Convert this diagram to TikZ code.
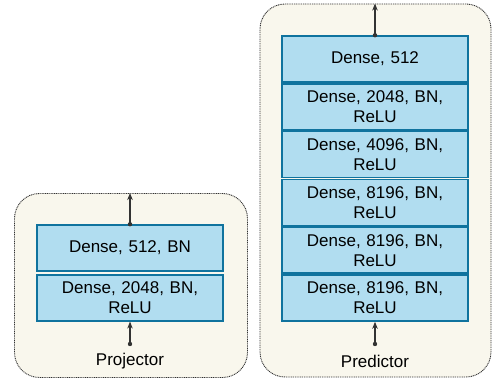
\documentclass[tikz,border=0pt]{standalone}
\usepackage{fontspec}
\setmainfont{Liberation Sans}
\usetikzlibrary{arrows.meta}

\definecolor{bluriempimento}{HTML}{B1DDF0}
\definecolor{blubordo}{HTML}{10739E}
\definecolor{crema}{HTML}{F9F7ED}
\definecolor{grigiofreccia}{HTML}{333333}

\begin{document}
\begin{tikzpicture}[
  x=1pt, y=-1pt,
  font=\fontsize{17}{20}\selectfont,
  pannello/.style={draw=black!80, fill=crema, line width=0.9pt, dash pattern=on 1pt off 0.8pt, rounded corners=25pt, inner sep=0pt},
  strato/.style={draw=blubordo, fill=bluriempimento, line width=1.6pt, minimum width=186pt, minimum height=46pt, text width=180pt, align=center, inner sep=0pt},
  freccia/.style={draw=grigiofreccia, line width=1.1pt, -{Stealth[length=7pt, width=5.5pt]}},
  punto/.style={fill=grigiofreccia},
  etichetta/.style={inner sep=1pt}
]
\useasboundingbox (0,0) rectangle (493,382);

%--------------------------------------------------------------
% Contenitori
%--------------------------------------------------------------
\node[pannello, minimum width=233pt, minimum height=184pt] (proiettore) at (131,285.5) {};
\node[pannello, minimum width=231pt, minimum height=373pt] (predittore) at (375.5,190.5) {};

%--------------------------------------------------------------
% Projector
%--------------------------------------------------------------
\node[strato] (pA) at (130,248) {Dense, 512, BN};
\node[strato] (pB) at (130,297.8) {Dense, 2048, BN,\\ ReLU};
\coordinate (pIn) at (130,344);
\draw[freccia] (pA.north) -- (pA.north |- proiettore.north);
\fill[punto] (pA.north) circle (2.2pt);
\draw[freccia] (pIn) -- (pB.south);
\fill[punto] (pIn) circle (2.2pt);
\node[etichetta] (pLabel) at (130,361) {Projector};

%--------------------------------------------------------------
% Predictor
%--------------------------------------------------------------
\node[strato] (qA) at (375,59) {Dense, 512};
\node[strato] (qB) at (375,106.8) {Dense, 2048, BN,\\ ReLU};
\node[strato] (qC) at (375,154.6) {Dense, 4096, BN,\\ ReLU};
\node[strato] (qD) at (375,202.4) {Dense, 8196, BN,\\ ReLU};
\node[strato] (qE) at (375,250.2) {Dense, 8196, BN,\\ ReLU};
\node[strato] (qF) at (375,298) {Dense, 8196, BN,\\ ReLU};
\coordinate (qIn) at (375,344);
\draw[freccia] (qA.north) -- (qA.north |- predittore.north);
\fill[punto] (qA.north) circle (2.2pt);
\draw[freccia] (qIn) -- (qF.south);
\fill[punto] (qIn) circle (2.2pt);
\node[etichetta] (qLabel) at (375,361) {Predictor};

\end{tikzpicture}
\end{document}
